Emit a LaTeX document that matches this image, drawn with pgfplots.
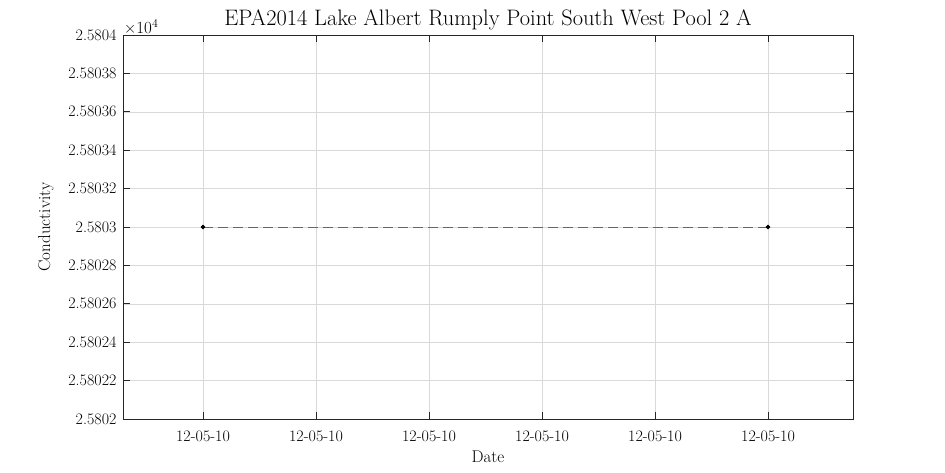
\documentclass[border=0pt]{standalone}
\usepackage{pgfplots}
\pgfplotsset{compat=1.18}
\begin{document}
\begin{tikzpicture}[x=1pt,y=1pt]
\useasboundingbox (-123,-53) rectangle (822,419);
\begin{axis}[
  at={(0,0)}, anchor=south west,
  scale only axis, width=730pt, height=384pt,
  xmin=-0.708, xmax=5.752,
  ymin=25802, ymax=25804,
  xtick={0,1,2,3,4,5},
  xticklabels={\textnormal{12-05-10},\textnormal{12-05-10},\textnormal{12-05-10},\textnormal{12-05-10},\textnormal{12-05-10},\textnormal{12-05-10}},
  ytick={25802,25802.2,25802.4,25802.6,25802.8,25803,25803.2,25803.4,25803.6,25803.8,25804},
  yticklabels={\textnormal{2.5802},\textnormal{2.58022},\textnormal{2.58024},\textnormal{2.58026},\textnormal{2.58028},\textnormal{2.5803},\textnormal{2.58032},\textnormal{2.58034},\textnormal{2.58036},\textnormal{2.58038},\textnormal{2.5804}},
  scaled y ticks=false,
  tick align=inside, major tick length=7pt,
  xtick pos=both, ytick pos=both,
  grid=major,
  major grid style={gray!30, line width=0.5pt},
  axis line style={black!85, line width=0.8pt},
  tick style={black!85, line width=0.8pt},
  tick label style={font=\fontsize{16}{19}\selectfont},
  title={EPA2014 Lake Albert Rumply Point South West Pool 2 A},
  title style={font=\fontsize{22.4}{26}\selectfont, yshift=-5pt},
  xlabel={Date}, ylabel={Conductivity},
  label style={font=\fontsize{17}{20}\selectfont},
  xlabel style={yshift=-3pt},
  ylabel style={yshift=8pt},
  xticklabel style={yshift=-8pt},
  yticklabel style={xshift=-3pt},
  clip=false,
]
\addplot[gray!80!black, dashed, dash pattern=on 10pt off 5pt, line width=0.8pt,
  mark=*, mark size=1.8pt, mark options={solid, fill=black, draw=black}]
  coordinates {(0,25803) (5,25803)};
\node[anchor=south west, font=\fontsize{17}{20}\selectfont, inner sep=1pt] at (rel axis cs:0,1) {\texttimes10\textsuperscript{4}};
\end{axis}
\end{tikzpicture}
\end{document}
